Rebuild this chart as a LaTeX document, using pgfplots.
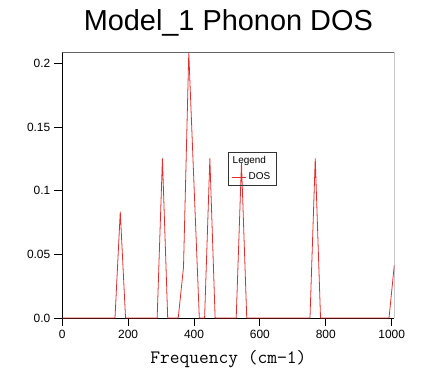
\documentclass[border=0pt]{standalone}
\usepackage{fontspec}
\setmainfont{Liberation Sans}
\usepackage{pgfplots}
\pgfplotsset{compat=1.18}
\definecolor{dosred}{RGB}{225,45,45}
\begin{document}
\begin{tikzpicture}[x=1bp,y=1bp]
\useasboundingbox (-62.3bp,-63bp) rectangle (372.7bp,318bp);
\begin{axis}[
  at={(0,0)}, anchor=origin,
  scale only axis, width=332bp, height=266bp,
  xmin=0, xmax=1008, ymin=0, ymax=0.2092,
  axis x line*=bottom, axis y line*=left,
  axis line style={black, line width=0.8pt},
  xtick={0,200,400,600,800,1000},
  ytick={0,0.05,0.1,0.15,0.2},
  yticklabels={0.0,0.05,0.1,0.15,0.2},
  tick align=outside, major tick length=8bp,
  tick style={black, line width=0.9pt},
  /pgf/number format/assume math mode=true,
  /pgf/number format/1000 sep={},
  ticklabel style={font=\fontsize{12}{14}\selectfont},
  xticklabel style={yshift=-1bp},
  yticklabel style={xshift=-0.5bp},
  scaled y ticks=false,
  title={\fontsize{29}{32}\selectfont Model\_1 Phonon DOS},
  title style={at={(0.5,1)}, anchor=base, yshift=16bp},
  xlabel={\ttfamily\fontsize{19}{20}\selectfont Frequency (cm\textminus1)},
  xlabel style={at={(0.5,0)}, anchor=base, yshift=-45bp},
  legend style={at={(0.5,0.625)}, anchor=north west, draw=black!80, fill=none, line width=0.5pt,
    font=\fontsize{10}{12}\selectfont, inner xsep=3.5bp, inner ysep=2.5bp, row sep=5bp,
    legend cell align=left,
    nodes={inner xsep=2bp, inner ysep=1.5bp}},
]
\addlegendimage{legend image code/.code={}}
\addlegendentry{\hspace*{-16bp}Legend}
\addplot[dosred, line width=0.8pt,
  legend image code/.code={\draw[dosred, line width=0.7pt] (0bp,0bp) -- (14bp,0bp);}] coordinates {
(0,0) (160,0) (176,0.0836) (192,0) (288,0) (304,0.1255) (320,0)
(352,0) (368,0.04) (384,0.2086) (400,0.104) (416,0) (432,0) (448,0.1255) (464,0)
(528,0) (544,0.122) (560,0) (752,0) (768,0.1255) (784,0) (992,0) (1008,0.0417)
};
\addlegendentry{DOS}
\draw[black!60, line width=0.8pt] (rel axis cs:0,1) -- (rel axis cs:1,1) -- (rel axis cs:1,0);
\end{axis}
\end{tikzpicture}
\end{document}
